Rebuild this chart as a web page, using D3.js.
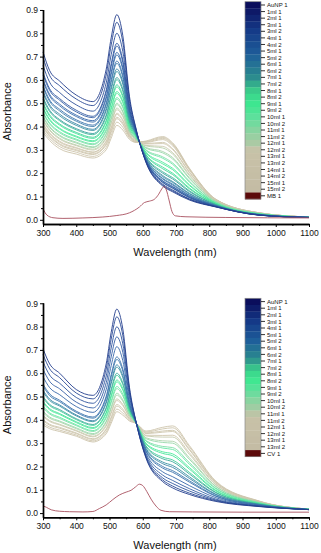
<!DOCTYPE html>
<html>
<head>
<meta charset="utf-8">
<script src="https://cdn.jsdelivr.net/npm/d3@7"></script>
<style>
  body { margin: 0; background: #fff; }
  svg { display: block; font-family: "Liberation Sans", Arial, sans-serif; }
</style>
</head>
<body>
<div id="chart"></div>
<script>
// Data
//= ================================
var wavelengths = [300, 320, 350, 400, 450, 490, 505, 522, 540, 560, 580, 610, 660, 690, 740, 820, 950, 1100];

var topLabels = ["AuNP 1", "1ml 1", "2ml 1", "3ml 1", "3ml 2", "4ml 1", "4ml 2", "5ml 1", "5ml 2",
  "6ml 1", "6ml 2", "7ml 1", "7ml 2", "8ml 1", "8ml 2", "9ml 1", "9ml 2", "10ml 1", "10ml 2",
  "11ml 1", "11ml 2", "12ml 1", "12ml 2", "13ml 1", "13ml 2", "14ml 1", "14ml 2", "15ml 1", "15ml 2"];

var topAbs = [
  [.720,.640,.595,.535,.507,.645,.780,.880,.790,.530,.390,.245,.145,.120,.085,.055,.020,.010],
  [.696,.619,.575,.518,.490,.621,.750,.847,.762,.517,.387,.247,.149,.124,.088,.056,.020,.010],
  [.662,.590,.546,.493,.466,.587,.708,.800,.722,.499,.384,.249,.153,.128,.090,.056,.020,.010],
  [.631,.562,.520,.470,.444,.556,.669,.757,.685,.482,.380,.252,.160,.135,.095,.057,.021,.010],
  [.622,.555,.513,.463,.438,.547,.658,.745,.675,.477,.379,.252,.162,.137,.096,.058,.021,.010],
  [.602,.538,.496,.449,.425,.527,.633,.718,.652,.467,.377,.254,.166,.141,.099,.058,.021,.010],
  [.594,.531,.489,.443,.419,.519,.623,.707,.643,.463,.376,.255,.168,.143,.100,.059,.021,.010],
  [.575,.514,.474,.429,.406,.500,.600,.681,.620,.453,.374,.258,.175,.149,.104,.060,.021,.010],
  [.568,.508,.467,.423,.400,.493,.590,.671,.611,.448,.373,.259,.178,.153,.106,.060,.022,.010],
  [.551,.493,.453,.411,.388,.476,.569,.647,.591,.439,.370,.263,.185,.160,.111,.061,.022,.010],
  [.543,.486,.446,.405,.383,.468,.559,.636,.582,.435,.369,.265,.190,.164,.114,.062,.022,.011],
  [.524,.470,.430,.391,.370,.449,.536,.610,.560,.425,.366,.269,.200,.175,.121,.064,.023,.011],
  [.517,.464,.425,.386,.365,.442,.527,.601,.552,.421,.365,.272,.206,.181,.125,.065,.023,.011],
  [.501,.450,.411,.375,.354,.426,.507,.579,.533,.413,.361,.278,.219,.194,.133,.067,.024,.011],
  [.495,.444,.406,.370,.349,.420,.500,.570,.526,.409,.360,.280,.226,.200,.137,.068,.024,.011],
  [.480,.432,.393,.359,.339,.405,.481,.550,.509,.401,.357,.287,.240,.215,.147,.070,.025,.011],
  [.475,.427,.389,.355,.335,.400,.474,.542,.502,.399,.355,.290,.247,.221,.151,.071,.025,.011],
  [.462,.415,.378,.346,.326,.387,.458,.524,.487,.391,.352,.297,.264,.238,.162,.073,.026,.011],
  [.456,.411,.373,.342,.322,.381,.451,.517,.481,.389,.351,.300,.270,.244,.166,.074,.026,.011],
  [.444,.400,.363,.333,.313,.369,.436,.500,.466,.382,.347,.307,.287,.261,.177,.077,.027,.011],
  [.440,.396,.359,.329,.310,.365,.430,.494,.461,.380,.346,.310,.293,.267,.181,.078,.027,.012],
  [.429,.387,.350,.321,.303,.354,.417,.479,.448,.374,.343,.317,.308,.282,.190,.080,.028,.012],
  [.424,.383,.346,.318,.299,.349,.411,.472,.443,.371,.342,.319,.315,.288,.195,.081,.028,.012],
  [.413,.373,.337,.310,.291,.338,.397,.457,.429,.365,.339,.325,.327,.301,.203,.083,.029,.012],
  [.409,.369,.333,.307,.289,.334,.392,.452,.425,.363,.338,.327,.332,.305,.206,.084,.029,.012],
  [.401,.362,.326,.301,.283,.326,.382,.440,.415,.359,.336,.332,.344,.317,.214,.086,.029,.012],
  [.396,.358,.322,.297,.280,.321,.376,.434,.409,.356,.335,.334,.349,.322,.217,.087,.030,.012],
  [.385,.349,.314,.290,.272,.310,.363,.419,.397,.351,.333,.336,.353,.326,.219,.087,.030,.012],
  [.375,.340,.305,.282,.265,.300,.350,.405,.385,.345,.332,.338,.357,.330,.222,.088,.030,.012]
];

var mbLabel = "MB 1";
var mbWl = [300, 312, 330, 360, 420, 480, 520, 560, 590, 605, 620, 635, 648, 657, 664, 671, 679, 688, 698, 730, 850, 1100];
var mbAbs = [.047, .020, .009, .006, .008, .012, .018, .030, .055, .074, .080, .088, .110, .132, .143, .128, .085, .035, .017, .013, .010, .008];

var bottomLabels = ["AuNP 1", "1ml 1", "2ml 1", "3ml 1", "4ml 1", "5ml 1", "5ml 2", "6ml 1", "6ml 2",
  "7ml 1", "7ml 2", "8ml 1", "8ml 2", "9ml 1", "9ml 2", "10ml 1", "10ml 2", "11ml 1", "11ml 2",
  "12ml 1", "12ml 2", "13ml 1", "13ml 2"];

var bottomAbs = [
  [.705,.640,.600,.530,.505,.640,.775,.875,.790,.540,.390,.235,.135,.108,.080,.050,.028,.015],
  [.680,.619,.581,.515,.490,.618,.746,.842,.762,.529,.390,.239,.142,.116,.086,.053,.029,.015],
  [.649,.592,.557,.496,.471,.588,.708,.799,.726,.515,.389,.243,.151,.127,.095,.056,.030,.015],
  [.617,.565,.533,.476,.451,.559,.670,.756,.690,.501,.389,.249,.163,.140,.105,.060,.031,.015],
  [.585,.538,.508,.457,.432,.530,.632,.714,.654,.487,.389,.256,.177,.156,.118,.066,.032,.015],
  [.553,.511,.484,.437,.412,.501,.594,.670,.618,.473,.388,.264,.193,.175,.133,.072,.034,.015],
  [.545,.504,.478,.432,.407,.493,.584,.659,.609,.469,.388,.268,.200,.182,.139,.074,.035,.015],
  [.527,.489,.464,.421,.396,.477,.563,.636,.589,.461,.388,.274,.212,.196,.149,.079,.036,.015],
  [.520,.483,.459,.417,.392,.471,.555,.626,.581,.458,.388,.277,.219,.204,.156,.081,.037,.016],
  [.500,.466,.444,.405,.380,.452,.531,.600,.558,.449,.387,.284,.233,.220,.168,.087,.038,.016],
  [.494,.461,.439,.401,.376,.447,.523,.591,.551,.447,.387,.288,.240,.228,.175,.089,.039,.016],
  [.479,.448,.427,.392,.367,.432,.505,.571,.534,.440,.387,.296,.256,.246,.189,.095,.040,.016],
  [.473,.443,.423,.388,.363,.427,.498,.563,.527,.437,.387,.299,.263,.254,.196,.098,.041,.016],
  [.458,.430,.411,.379,.354,.414,.481,.543,.511,.431,.387,.308,.279,.273,.210,.104,.043,.016],
  [.452,.425,.406,.375,.350,.408,.473,.534,.503,.428,.386,.311,.286,.281,.217,.107,.044,.016],
  [.437,.412,.395,.366,.341,.394,.455,.514,.486,.421,.386,.319,.303,.300,.231,.113,.045,.016],
  [.431,.407,.391,.362,.337,.389,.448,.506,.480,.419,.386,.323,.310,.308,.238,.115,.046,.017],
  [.419,.397,.381,.355,.330,.378,.434,.490,.466,.413,.386,.331,.326,.326,.252,.121,.048,.017],
  [.414,.393,.378,.352,.327,.373,.428,.483,.461,.411,.386,.334,.333,.334,.259,.124,.048,.017],
  [.401,.381,.368,.344,.319,.361,.412,.466,.446,.405,.385,.341,.347,.350,.271,.129,.050,.017],
  [.396,.377,.364,.341,.316,.357,.406,.459,.440,.403,.385,.344,.352,.355,.275,.131,.050,.017],
  [.386,.369,.356,.335,.310,.348,.395,.446,.429,.399,.385,.348,.361,.366,.284,.134,.051,.017],
  [.378,.362,.350,.330,.305,.340,.385,.435,.420,.395,.385,.352,.368,.374,.290,.137,.052,.017]
];

var cvLabel = "CV 1";
var cvWl = [300, 310, 325, 350, 380, 420, 450, 470, 490, 510, 530, 550, 565, 578, 590, 600, 612, 625, 640, 655, 680, 750, 900, 1100];
var cvAbs = [.031, .025, .014, .008, .006, .005, .007, .020, .035, .058, .078, .090, .098, .112, .124, .118, .093, .060, .030, .012, .006, .005, .004, .004];

var yTicks = [0, 0.1, 0.2, 0.3, 0.4, 0.5, 0.6, 0.7, 0.8, 0.9];
var yMinor = [0.05, 0.15, 0.25, 0.35, 0.45, 0.55, 0.65, 0.75, 0.85];
var xTicks = [300, 400, 500, 600, 700, 800, 900, 1000, 1100];
var xMinor = [350, 450, 550, 650, 750, 850, 950, 1050];

// Step 0: chart setup
//= ================================
var svgWidth = 321;
var svgHeight = 553;

var svg = d3.select("#chart")
  .append("svg")
  .attr("width", svgWidth)
  .attr("height", svgHeight);

// colour map of the colour bar (navy -> blue -> green -> beige)
var rampStops = [0, 0.14, 0.27, 0.39, 0.47, 0.54, 0.61, 0.68, 0.75, 0.79, 1];
var ramp = d3.scaleLinear()
  .domain(rampStops)
  .range(["#0b0e5c", "#153a88", "#1e5e9a", "#2b8a8e", "#3bcf8a", "#3ee890", "#5ee09c",
          "#88d4a0", "#aacaa4", "#c8c2a8", "#c4bca4"]);
// the thin plotted lines read a little lighter than the bar
var lineRamp = d3.scaleLinear()
  .domain(rampStops)
  .range(["#223d8c", "#3560a6", "#3d78ae", "#3c9c9e", "#44d896", "#48ec9a", "#6ee4a6",
          "#98d8aa", "#b8d0ac", "#d0c8b0", "#cdc4ac"]);
var dyeColor = "#5c0a0a";
var dyeLine = "#a8505f";

function drawPanel(top, labels, rows, dyeName, dyeWl, dyeAbs, barTop, cellH) {
  var g = svg.append("g");

  var xScale = d3.scaleLinear().domain([300, 1100]).range([43, 309]);
  var yScale = d3.scaleLinear().domain([-0.018, 0.902]).range([top + 224, top + 9.5]);

  var line = d3.line()
    .x(function(d) { return xScale(d[0]); })
    .y(function(d) { return yScale(d[1]); })
    .curve(d3.curveMonotoneX);

  var n = labels.length;
  var series = rows.map(function(r, i) {
    return { name: labels[i], idx: i, pts: wavelengths.map(function(w, j) { return [w, r[j]]; }) };
  });

  // draw beige first so the navy curves sit on top
  g.selectAll(".spec")
    .data(series.slice().reverse())
    .enter().append("path")
    .attr("class", "spec")
    .attr("d", function(d) { return line(d.pts); })
    .attr("fill", "none")
    .attr("stroke", function(d) { return lineRamp(d.idx / (n - 1)); })
    .attr("stroke-width", 0.9);

  var dyePts = dyeWl.map(function(w, j) { return [w, dyeAbs[j]]; });
  g.append("path")
    .attr("d", line(dyePts))
    .attr("fill", "none")
    .attr("stroke", dyeLine)
    .attr("stroke-width", 0.9);

  // axes
  var leftAxis = d3.axisLeft(yScale).tickValues(yTicks).tickSize(3).tickSizeOuter(0)
    .tickFormat(d3.format(".1f"));
  var leftMinor = d3.axisLeft(yScale).tickValues(yMinor).tickSize(2).tickSizeOuter(0)
    .tickFormat("");
  var bottomAxis = d3.axisBottom(xScale).tickValues(xTicks).tickSize(3).tickSizeOuter(0)
    .tickFormat(d3.format("d"));
  var bottomMinor = d3.axisBottom(xScale).tickValues(xMinor).tickSize(2).tickSizeOuter(0)
    .tickFormat("");

  var ax = g.append("g").attr("transform", "translate(43,0)").call(leftAxis);
  g.append("g").attr("transform", "translate(43,0)").call(leftMinor);
  var bx = g.append("g").attr("transform", "translate(0," + (top + 224) + ")").call(bottomAxis);
  g.append("g").attr("transform", "translate(0," + (top + 224) + ")").call(bottomMinor);

  g.selectAll(".domain").attr("stroke", "#000").attr("stroke-width", 1.4);
  g.selectAll(".tick line").attr("stroke", "#000").attr("stroke-width", 1);
  ax.selectAll("text").attr("font-size", "8.5px").attr("fill", "#111").attr("x", -5)
    .style("font-family", "'Liberation Sans', Arial, sans-serif");
  bx.selectAll("text").attr("font-size", "8.5px").attr("fill", "#111").attr("y", 6)
    .style("font-family", "'Liberation Sans', Arial, sans-serif");

  g.append("text")
    .attr("transform", "translate(10.5," + (top + 111.5) + ") rotate(-90)")
    .attr("text-anchor", "middle")
    .attr("font-size", "11px")
    .attr("fill", "#111")
    .text("Absorbance");

  g.append("text")
    .attr("x", 175)
    .attr("y", top + 255.5)
    .attr("text-anchor", "middle")
    .attr("font-size", "11px")
    .attr("fill", "#111")
    .text("Wavelength (nm)");

  // colour-bar legend
  var cells = labels.concat([dyeName]);
  var leg = g.append("g");
  leg.selectAll("rect.cell")
    .data(cells)
    .enter().append("rect")
    .attr("class", "cell")
    .attr("x", 245)
    .attr("y", function(d, i) { return barTop + i * cellH; })
    .attr("width", 16)
    .attr("height", cellH + 0.3)
    .attr("fill", function(d, i) { return i < n ? ramp(i / (n - 1)) : dyeColor; });

  leg.append("rect")
    .attr("x", 245).attr("y", barTop)
    .attr("width", 16).attr("height", cells.length * cellH)
    .attr("fill", "none").attr("stroke", "#8a8a8a").attr("stroke-width", 0.7);

  leg.selectAll("line.lt")
    .data(cells)
    .enter().append("line")
    .attr("class", "lt")
    .attr("x1", 261).attr("x2", 265)
    .attr("y1", function(d, i) { return barTop + (i + 0.5) * cellH; })
    .attr("y2", function(d, i) { return barTop + (i + 0.5) * cellH; })
    .attr("stroke", "#000").attr("stroke-width", 0.8);

  leg.selectAll("text.lab")
    .data(cells)
    .enter().append("text")
    .attr("class", "lab")
    .attr("x", 267)
    .attr("y", function(d, i) { return barTop + (i + 0.5) * cellH; })
    .attr("dy", "0.35em")
    .attr("font-size", "6px")
    .attr("fill", "#111")
    .text(function(d) { return d; });
}

drawPanel(0, topLabels, topAbs, mbLabel, mbWl, mbAbs, 1.7, 6.58);
drawPanel(293.3, bottomLabels, bottomAbs, cvLabel, cvWl, cvAbs, 298.3, 6.6);
</script>
</body>
</html>
